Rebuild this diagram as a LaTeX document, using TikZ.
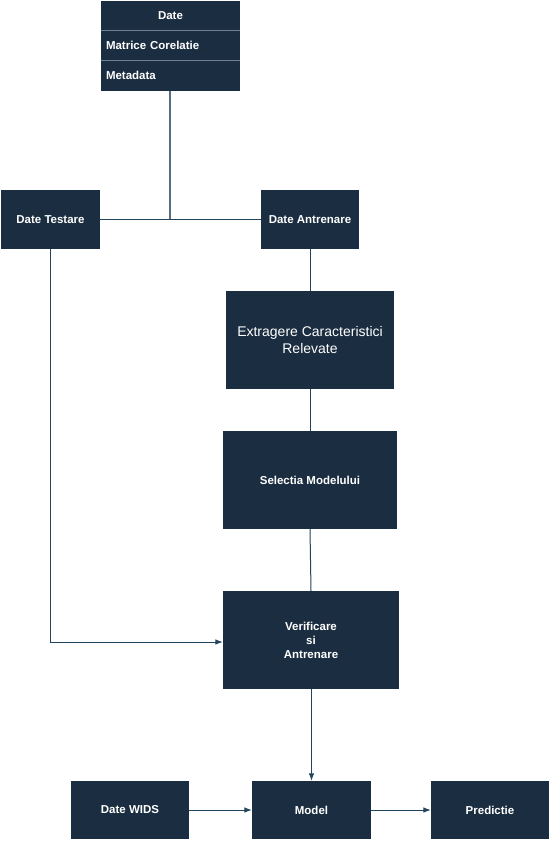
\documentclass[tikz,border=0pt]{standalone}
\usepackage{fontspec}
\setmainfont{Liberation Sans}
\usetikzlibrary{arrows.meta, positioning}
\definecolor{boxfill}{HTML}{1B2D40}
\definecolor{wire}{HTML}{23445D}
\definecolor{sep}{HTML}{6E8092}
\tikzstyle{block} = [fill=boxfill, rectangle, text=white, inner sep=0pt, font=\fontsize{11.5}{14}\selectfont\bfseries, align=center]
\tikzstyle{cell} = [block, minimum width=139pt, minimum height=30pt]
\tikzstyle{wire} = [draw=wire, line width=1pt]

\begin{document}
\begin{tikzpicture}[x=1pt, y=-1pt, >=Latex]
    \useasboundingbox (0,0) rectangle (551,841);
    % tabel date
    \node[cell] (date) at (170.5,15.5) {Date};
    \node[cell, below of=date, node distance=30pt, text width=129pt, align=left] (corel) {Matrice Corelatie};
    \node[cell, below of=corel, node distance=30pt, text width=129pt, align=left] (meta) {Metadata};
    \draw[sep, line width=0.8pt] (date.south west) -- (date.south east);
    \draw[sep, line width=0.8pt] (corel.south west) -- (corel.south east);
    % impartire
    \node[block, minimum width=99pt, minimum height=59pt] (test) at (50.5,219.5) {Date Testare};
    \node[block, minimum width=98pt, minimum height=59pt] (antr) at (310,219.5) {Date Antrenare};
    \coordinate (junc) at (170,219);
    % pipeline
    \node[block, minimum width=168pt, minimum height=98pt, font=\fontsize{14}{17}\selectfont, below of=antr, node distance=120.5pt] (extr) {Extragere Caracteristici\\Relevate};
    \node[block, minimum width=174pt, minimum height=98pt, below of=extr, node distance=140pt] (sel) {Selectia Modelului};
    \node[block, minimum width=176pt, minimum height=98pt] (verif) at (311,640) {Verificare\\si\\Antrenare};
    \node[block, minimum width=119pt, minimum height=58pt] (model) at (311.5,810) {Model};
    \node[block, minimum width=118pt, minimum height=58pt, left of=model, node distance=181.5pt] (wids) {Date WIDS};
    \node[block, minimum width=118pt, minimum height=58pt, right of=model, node distance=178.5pt] (pred) {Predictie};
    \draw[draw=sep!70!wire, line width=1.8pt] (meta.south -| junc) -- (junc);
    \draw[wire] (test) -- (antr);
    \draw[wire] (antr) -- (extr);
    \draw[wire] (extr) -- (sel);
    \draw[wire] (sel.south) -- (verif.north);
    \draw[wire, ->] (test.south) |- ([yshift=-2pt]verif.west);
    \draw[wire, ->] (verif.south -| model) -- (model);
    \draw[wire, ->] (wids) -- (model);
    \draw[wire, ->] (model) -- (pred);
\end{tikzpicture}
\end{document}
